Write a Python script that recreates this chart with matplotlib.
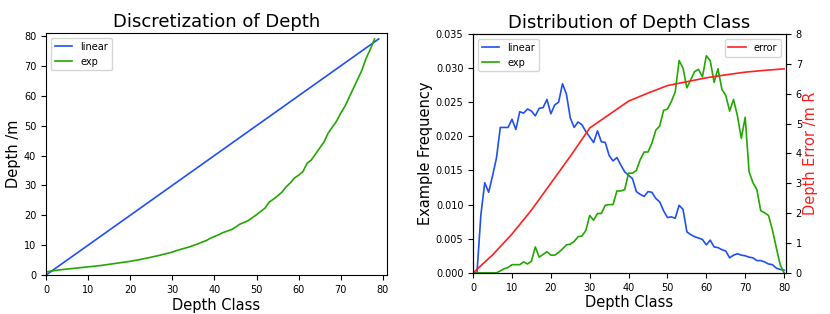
import numpy as np
import matplotlib.pyplot as plt

# left panel: depth value of each class
lin_class = [0, 79]
lin_depth = [0, 79]
exp_depth = [1.0, 1.3, 1.5, 1.7, 1.85, 2.0, 2.15, 2.3, 2.45, 2.6,
             2.75, 2.9, 3.05, 3.2, 3.4, 3.6, 3.8, 4.0, 4.2, 4.4,
             4.6, 4.85, 5.1, 5.4, 5.7, 6.0, 6.3, 6.6, 7.0, 7.3,
             7.7, 8.2, 8.6, 9.0, 9.4, 9.9, 10.4, 11.0, 11.5, 12.3,
             12.9, 13.5, 14.2, 14.7, 15.2, 16.0, 17.0, 17.6, 18.2, 19.2,
             20.2, 21.3, 22.4, 24.4, 25.4, 26.5, 27.7, 29.5, 30.8, 32.5,
             33.4, 34.6, 37.4, 38.5, 40.5, 42.5, 44.5, 47.5, 49.5, 51.5,
             54.2, 56.5, 59.5, 62.5, 65.5, 68.5, 72.5, 75.5, 79.0]
exp_class = np.arange(len(exp_depth))

# right panel: frequency of each class
freq_linear = [0.0, 0.0, 0.0085, 0.0132, 0.0118, 0.0142, 0.0168, 0.0213, 0.0213, 0.0213,
               0.0225, 0.0210, 0.0236, 0.0234, 0.0240, 0.0237, 0.0230, 0.0241, 0.0242, 0.0254,
               0.0233, 0.0246, 0.0250, 0.0277, 0.0262, 0.0227, 0.0213, 0.0221, 0.0217, 0.0207,
               0.0199, 0.0191, 0.0208, 0.0192, 0.0191, 0.0172, 0.0164, 0.0169, 0.0158, 0.0148,
               0.0143, 0.0138, 0.0119, 0.0115, 0.0112, 0.0119, 0.0118, 0.0109, 0.0104, 0.0091,
               0.0081, 0.0082, 0.0080, 0.0099, 0.0093, 0.0060, 0.0056, 0.0053, 0.0051, 0.0049,
               0.0041, 0.0048, 0.0038, 0.0037, 0.0034, 0.0032, 0.0022, 0.0026, 0.0028, 0.0026,
               0.0025, 0.0023, 0.0022, 0.0018, 0.0018, 0.0016, 0.0013, 0.0012, 0.0007, 0.0005,
               0.0004]
freq_exp = [0.0, 0.0, 0.0, 0.0, 0.0, 0.0, 0.0, 0.0003, 0.0006, 0.0008,
            0.0012, 0.0012, 0.0012, 0.0016, 0.0013, 0.0017, 0.0038, 0.0023, 0.0027, 0.0031,
            0.0026, 0.0026, 0.0030, 0.0035, 0.0041, 0.0042, 0.0046, 0.0053, 0.0054, 0.0062,
            0.0084, 0.0077, 0.0087, 0.0087, 0.0099, 0.0100, 0.0100, 0.0120, 0.0120, 0.0122,
            0.0146, 0.0146, 0.0150, 0.0166, 0.0177, 0.0177, 0.0190, 0.0209, 0.0215, 0.0238,
            0.0240, 0.0251, 0.0265, 0.0311, 0.0300, 0.0271, 0.0283, 0.0295, 0.0298, 0.0287,
            0.0318, 0.0311, 0.0279, 0.0299, 0.0269, 0.0260, 0.0237, 0.0254, 0.0230, 0.0197,
            0.0228, 0.0148, 0.0132, 0.0122, 0.0091, 0.0088, 0.0084, 0.0063, 0.0037, 0.0012,
            0.0]
freq_class = np.arange(len(freq_linear))

err_class = [0, 5, 10, 15, 20, 25, 30, 35, 40, 45, 50, 55, 60, 65, 70, 75, 80]
err_value = [0.0, 0.6, 1.3, 2.1, 3.0, 3.9, 4.85, 5.3, 5.75, 6.02, 6.27, 6.4, 6.53, 6.63, 6.72, 6.78, 6.83]

blue = '#2050f0'
green = '#22a800'
red = '#ff2020'

fig = plt.figure(figsize=(8.3, 3.14), dpi=100)

ax1 = fig.add_axes([0.0554, 0.124, 0.411, 0.771])
ax1.plot(lin_class, lin_depth, color=blue, lw=1.2, label='linear')
ax1.plot(exp_class, exp_depth, color=green, lw=1.2, label='exp')
ax1.set_xlim(0, 81)
ax1.set_ylim(0, 81)
ax1.set_title('Discretization of Depth', fontsize=13, pad=4)
ax1.set_xlabel('Depth Class', fontsize=10.5, labelpad=2)
ax1.set_ylabel('Depth /m', fontsize=10.5, labelpad=2)
ax1.tick_params(labelsize=7)
ax1.legend(loc='upper left', fontsize=7, handlelength=1.8)

ax2 = fig.add_axes([0.570, 0.131, 0.377, 0.761])
ax2.plot(freq_class, freq_linear, color=blue, lw=1.2, label='linear')
ax2.plot(freq_class, freq_exp, color=green, lw=1.2, label='exp')
ax2.set_xlim(0, 80.5)
ax2.set_ylim(0, 0.035)
ax2.set_title('Distribution of Depth Class', fontsize=13, pad=4)
ax2.set_xlabel('Depth Class', fontsize=10.5, labelpad=2)
ax2.set_ylabel('Example Frequency', fontsize=10.5, labelpad=2)
ax2.tick_params(labelsize=7)
ax2.legend(loc='upper left', fontsize=7, handlelength=1.8)

ax3 = ax2.twinx()
ax3.plot(err_class, err_value, color=red, lw=1.2, label='error')
ax3.set_ylim(0, 8)
ax3.set_ylabel('Depth Error /m R', color=red, fontsize=10.5, labelpad=1)
ax3.tick_params(labelsize=7)
ax3.legend(loc='upper right', fontsize=7, handlelength=1.8)

fig.savefig('out.png', dpi=100)
